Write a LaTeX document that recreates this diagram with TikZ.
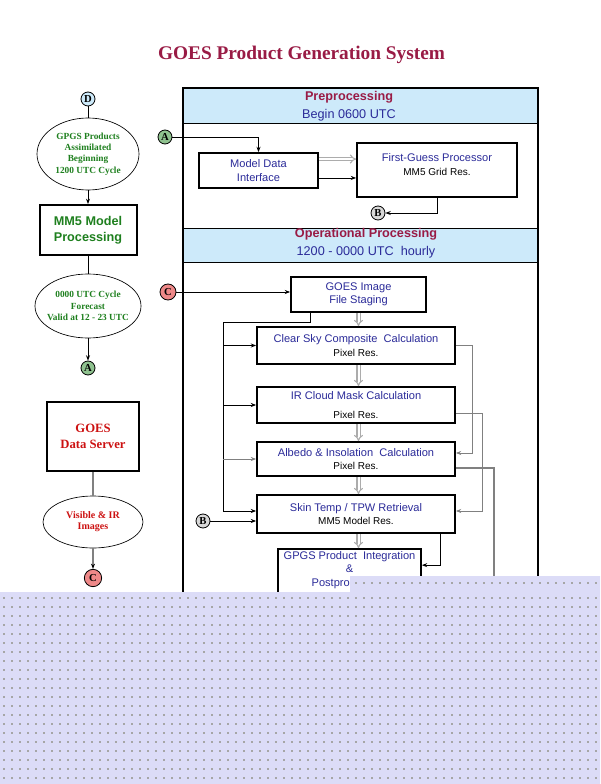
\documentclass[tikz,border=0pt]{standalone}
\usepackage{fontspec}
\setmainfont{Liberation Serif}
\setsansfont{Liberation Sans}
\usetikzlibrary{arrows.meta,shapes.geometric,calc}
\definecolor{titlered}{HTML}{991B45}
\definecolor{navytext}{HTML}{2B2B99}
\definecolor{bandblue}{HTML}{CDEAFA}
\definecolor{modelgreen}{HTML}{1E7F1E}
\definecolor{serverred}{HTML}{CC1111}
\definecolor{veilblue}{HTML}{DCDCF7}
\definecolor{dfill}{HTML}{CDEAFA}
\definecolor{afill}{HTML}{8FC28F}
\definecolor{bfill}{HTML}{D8D8D8}
\definecolor{cfill}{HTML}{EE8888}
\begin{document}
\begin{tikzpicture}[x=0.75pt,y=-0.75pt,line width=0.6pt,>={Stealth[length=4pt,width=3pt]},
	procbox/.style={draw,line width=1.3pt,fill=white,inner sep=0pt},
	proctext/.style={align=center,text=navytext,font=\sffamily\fontsize{8.3}{10}\selectfont},
	header/.style={align=center,text=navytext,font=\sffamily\fontsize{9.5}{13.5}\selectfont},
	sidebox/.style={draw,line width=1.5pt,align=center,inner sep=0pt},
	bubble/.style={ellipse,draw,line width=0.5pt,align=center,inner sep=0pt,font=\bfseries\fontsize{7}{8.5}\selectfont},
	marker/.style={circle,draw,line width=0.6pt,inner sep=0pt,minimum size=10.5pt,font=\bfseries\fontsize{8}{8}\selectfont},
	flow/.style={draw=gray!65,double=white,double distance=1.5pt,line width=0.8pt,-{Implies}},
	speck/.style={fill=gray!70}]
	\useasboundingbox (0,0) rectangle (600,784);
	\node[font=\bfseries\fontsize{14.5}{17}\selectfont,text=titlered] (title) at (301.5,55) {GOES Product Generation System};
	\fill[bandblue] (183,88) rectangle (538,123);
	\fill[bandblue] (183,228) rectangle (538,262);
	\draw (183,123) -- (538,123) (183,228) -- (538,228) (183,262) -- (538,262);
	\draw[line width=1.2pt] (183,610) |- (538,88) -- (538,610);
	\node[header] (pre) at (349,106) {{\color{titlered}\bfseries Preprocessing}\\Begin 0600 UTC};
	\node[header] (oper) at (366,243) {{\color{titlered}\bfseries Operational Processing}\\1200 - 0000 UTC\ \ hourly};
	\node[marker,fill=dfill] (cD) at (88,99) {D};
	\node[bubble,text=modelgreen,minimum width=76.5pt,minimum height=54pt] (assim) at (88,154) {GPGS Products\\Assimilated\\Beginning\\1200 UTC Cycle};
	\node[sidebox,text=modelgreen,font=\sffamily\bfseries\fontsize{9.5}{12}\selectfont,minimum width=72.75pt,minimum height=37.5pt] (mm5) at (88,230) {MM5 Model\\Processing};
	\node[bubble,text=modelgreen,minimum width=79.5pt,minimum height=48pt,inner xsep=-5pt] (fcst) at (88,306) {0000 UTC Cycle\\Forecast\\Valid at 12 - 23 UTC};
	\node[marker,fill=afill] (cA2) at (88,368) {A};
	\node[sidebox,text=serverred,font=\bfseries\fontsize{9.5}{12}\selectfont,minimum width=69pt,minimum height=51.75pt] (server) at (93,436.5) {GOES\\Data Server};
	\node[bubble,text=serverred,font=\bfseries\fontsize{7.5}{8.25}\selectfont,minimum width=75pt,minimum height=39pt] (images) at (93,522) {Visible \& IR\\Images};
	\node[marker,fill=cfill,minimum size=13pt] (cC1) at (93,578) {C};
	\draw (cD) -- (assim);
	\draw[->] (assim) -- (mm5);
	\draw (mm5) -- (fcst);
	\draw[->] (fcst) -- (cA2);
	\draw[gray,line width=1.2pt] (server) -- (images);
	\draw[gray,line width=1.2pt,-{Stealth[length=4pt,width=3pt,black]}] (images) -- (cC1);
	\node[marker,fill=afill] (cA1) at (165,137) {A};
	\node[procbox,proctext,minimum width=89.25pt,minimum height=26.25pt] (mdi) at (258.5,170.5) {Model Data\\Interface};
	\node[procbox,minimum width=120pt,minimum height=40.5pt] (fgp) at (437,170) {};
	\node[proctext] (fgptxt) at (437,164.5) {First-Guess Processor\\\textcolor{black}{\fontsize{7.5}{9}\selectfont MM5 Grid Res.}};
	\node[marker,fill=bfill] (cB1) at (378,213) {B};
	\draw[->] (cA1) -| (mdi);
	\draw[flow] ([yshift=8.6pt]mdi.east) -- ([yshift=8.6pt]mdi.east -| fgp.west);
	\draw[->] ([yshift=-5.6pt]mdi.east) -- ([yshift=-5.6pt]mdi.east -| fgp.west);
	\draw[->] (fgp) |- (cB1);
	\node[marker,fill=cfill,minimum size=12pt] (cC2) at (168,292) {C};
	\node[procbox,proctext,minimum width=101.25pt,minimum height=26.25pt] (stage) at (358.5,294.5) {GOES Image\\File Staging};
	\node[procbox,proctext,minimum width=148.5pt,minimum height=27.75pt] (clear) at (356,345.5) {Clear Sky Composite\ \ Calculation\\\textcolor{black}{\fontsize{7.5}{9}\selectfont Pixel Res.}};
	\node[procbox,proctext,minimum width=148.5pt,minimum height=27pt] (ir) at (356,405) {IR Cloud Mask Calculation\\[4pt]\textcolor{black}{\fontsize{7.5}{9}\selectfont Pixel Res.}};
	\node[procbox,proctext,minimum width=148.5pt,minimum height=25.5pt] (albedo) at (356,459) {Albedo \& Insolation\ \ Calculation\\\textcolor{black}{\fontsize{7.5}{9}\selectfont Pixel Res.}};
	\node[procbox,proctext,minimum width=148.5pt,minimum height=28.5pt] (skin) at (356,514) {Skin Temp / TPW Retrieval\\\textcolor{black}{\fontsize{7.5}{9}\selectfont MM5 Model Res.}};
	\node[procbox,minimum width=107.25pt,minimum height=45.75pt] (gpgs) at (349.5,579.5) {};
	\node[proctext] (gpgstxt) at (349.5,570) {GPGS Product\ \ Integration\\\&\\Postprocessing};
	\node[marker,fill=bfill] (cB2) at (203,521) {B};
	\draw[->] (cC2) -- (cC2 -| stage.west);
	\draw[flow] (stage) -- (stage |- clear.north);
	\draw[flow] (clear.south -| stage) -- (ir.north -| stage);
	\draw[flow] (ir.south -| stage) -- (albedo.north -| stage);
	\draw[flow] (albedo.south -| stage) -- (skin.north -| stage);
	\draw[flow] (skin.south -| stage) -- (gpgs.north -| stage);
	\coordinate (fbk) at (223,322);
	\draw ($(stage.south)+(-48.5,0)$) |- (fbk) -- ($(fbk |- skin.west)+(0,-3)$);
	\draw[->] (fbk |- clear.west) -- (clear.west);
	\draw[->] (fbk |- ir.west) -- (ir.west);
	\draw[->,gray] (fbk |- albedo.west) -- (albedo.west);
	\draw[->] ($(fbk |- skin.west)+(0,-3)$) -- ($(skin.west)+(0,-3)$);
	\draw[->] (cB2) -- (cB2 -| skin.west);
	\draw[->,gray] (clear.east) -- ++(17,0) |- ($(albedo.east)+(0,-6)$);
	\draw[->,gray] ($(ir.east)+(0,8)$) -- ++(27,0) |- ($(skin.east)+(0,-3)$);
	\coordinate (albout) at (494,600);
	\draw[gray,line width=0.8pt] ($(albedo.east)+(0,9)$) -| (albout);
	\draw[->] ($(skin.south)+(84,0)$) |- ($(gpgs.north east)+(0,17)$);
	\fill[veilblue] (0,592) -- (350,592) -- (350,576) -- (600,576) -- (600,784) -- (0,784) -- cycle;
	\foreach \i in {44,...,74}
		\fill[speck] (3+8*\i,582) rectangle ++(1.5,1.5);
	\foreach \j in {0,...,20}
		\foreach \i in {0,...,74}
			\fill[speck] (3+8*\i,597+9*\j) rectangle ++(1.5,1.5);
\end{tikzpicture}
\end{document}
